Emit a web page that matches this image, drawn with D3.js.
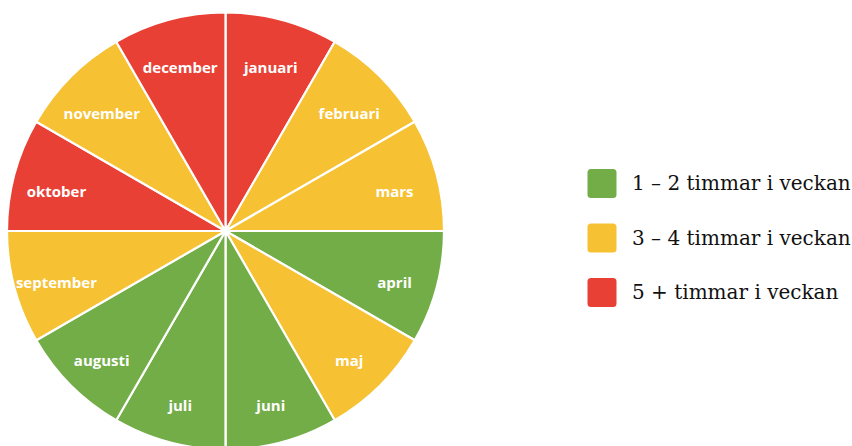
<!DOCTYPE html>
<html><head><meta charset="utf-8">
<script src="https://cdn.jsdelivr.net/npm/d3@7"></script>
<style>body{margin:0;background:#fff}</style>
</head><body><svg id="c" width="852" height="446"></svg>
<script>
const months = ["januari","februari","mars","april","maj","juni","juli","augusti","september","oktober","november","december"];
const levels = [3,2,2,1,2,1,1,1,2,3,2,3];
const legendLabels = ["1 – 2 timmar i veckan","3 – 4 timmar i veckan","5 + timmar i veckan"];
const levelKeys = [1,2,3];
const colors = ["#72AD48","#F6C133","#E94035"];

const svg = d3.select("#c");
const cx = 225.5, cy = 231, r = 218.5;
const color = d3.scaleOrdinal().domain(levelKeys).range(colors);
const data = months.map((m,i)=>({m, lv: levels[i]}));
const pie = d3.pie().value(1).sort(null);
const arc = d3.arc().innerRadius(0).outerRadius(r);
const labelArc = d3.arc().innerRadius(175).outerRadius(175);
const g = svg.append("g").attr("transform",`translate(${cx},${cy})`);
const arcs = pie(data);
g.selectAll("path").data(arcs).join("path")
  .attr("d",arc).attr("fill",d=>color(d.data.lv))
  .attr("stroke","#fff").attr("stroke-width",2.2).attr("stroke-linejoin","round");
g.selectAll("text").data(arcs).join("text")
  .attr("transform",d=>{const c=labelArc.centroid(d);return `translate(${c[0]},${c[1]+6})`;})
  .attr("text-anchor","middle").attr("dy","0.36em")
  .attr("fill","#fff").attr("font-family","Open Sans").attr("font-weight",700)
  .attr("font-size",15).text(d=>d.data.m);

const y = d3.scalePoint().domain(levelKeys).range([183.5,292.5]);
const lg = svg.append("g");
lg.selectAll("rect").data(levelKeys).join("rect")
  .attr("x",587.5).attr("y",d=>y(d)-14.5).attr("width",29).attr("height",29)
  .attr("rx",3.5).attr("fill",d=>color(d));
lg.selectAll("text").data(levelKeys).join("text")
  .attr("x",632).attr("y",d=>y(d)).attr("dy","0.33em")
  .attr("font-family","DejaVu Serif").attr("font-size",20).attr("fill","#111")
  .text((d,i)=>legendLabels[i]);
</script></body></html>
